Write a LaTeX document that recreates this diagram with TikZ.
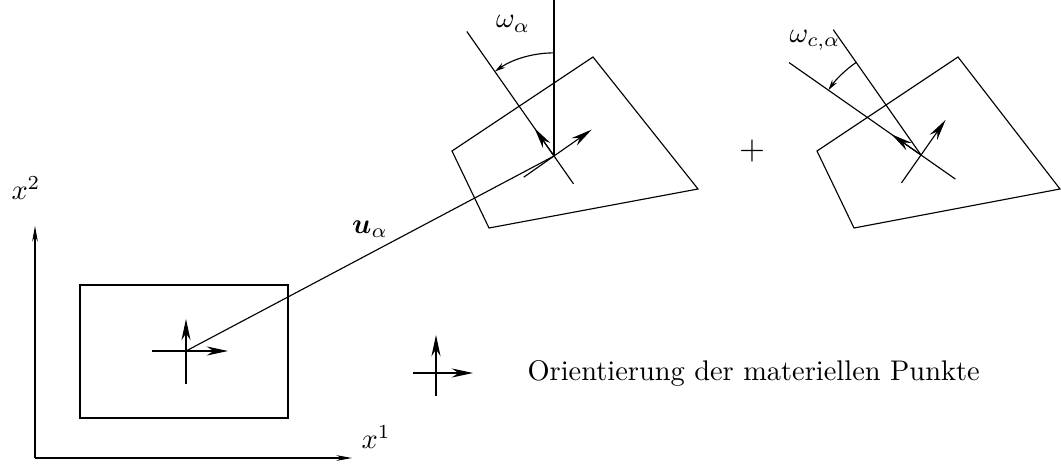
\documentclass[tikz,border=0pt]{standalone}
\usepackage{amsmath}
\usepackage{bm}
\usetikzlibrary{arrows.meta,calc}

\begin{document}
\begin{tikzpicture}[x=0.352pt,y=-0.352pt,line width=0.4pt,
  vec/.style={-{Stealth[length=7.5pt,width=3.2pt]}},
  axisvec/.style={-{Stealth[length=5.5pt,width=2pt]}},
  anglevec/.style={-{Stealth[length=3.8pt,width=2pt]}}]
  \useasboundingbox (0,0) rectangle (1061,465);

  % axes
  \draw[axisvec] (35,458) -- (35,226);
  \draw[axisvec] (35,458) -- (352,458);
  \node (x2) at (26,188) {$x^2$};
  \node (x1) at (376,437) {$x^1$};

  % reference configuration
  \draw (80,285) rectangle (288,418);
  \coordinate (O) at (186,351);
  \draw (O) -- ++(-34,0);
  \draw (O) -- ++(0,33);
  \draw[vec] (O) -- ++(42,0);
  \draw[vec] (O) -- ++(0,-32);

  % deformed configuration, rotation of the material points
  \draw (452,151) -- (593,57) -- (698,189) -- (489,228) -- cycle;
  \coordinate (P) at (554,156);
  \draw (O) -- (P);
  \node (u) at (370,229) {$\bm{u}_\alpha$};
  \draw (P) -- ++(0,-156);
  \begin{scope}[shift={(P)},rotate=35]
    \draw (0,34) -- (0,-152);
    \draw (-37,0) -- (0,0);
    \draw[vec] (0,0) -- (46,0);
    \draw[vec] (0,0) -- (0,-34);
  \end{scope}
  \draw[anglevec] ($(P)+(90:36.3pt)$) arc[start angle=90,end angle=125,radius=36.3pt];
  \node (om) at (513,24) {$\omega_\alpha$};

  \node (plus) at (752,151) {\fontsize{13}{15}\selectfont $+$};

  % additional rotation
  \draw (817,151) -- (958,57) -- (1060,189) -- (854,228) -- cycle;
  \coordinate (Q) at (921,155);
  \begin{scope}[shift={(Q)},rotate=35]
    \draw (0,0) -- (0,-153);
  \end{scope}
  \begin{scope}[shift={(Q)},rotate=55]
    \draw (0,42) -- (0,-161);
    \draw (-34,0) -- (0,0);
    \draw[vec] (0,0) -- (43,0);
    \draw[vec] (0,0) -- (0,-36);
  \end{scope}
  \draw[anglevec] ($(Q)+(125:39.8pt)$) arc[start angle=125,end angle=145,radius=39.8pt];
  \node (omc) at (815,40) {$\omega_{c,\alpha}$};

  % legend
  \coordinate (L) at (436,373);
  \draw (L) -- ++(-23,0);
  \draw (L) -- ++(0,23);
  \draw[vec] (L) -- ++(37,0);
  \draw[vec] (L) -- ++(0,-38);
  \node[anchor=base west,inner sep=0pt] (leg) at (527,380) {Orientierung der materiellen Punkte};
\end{tikzpicture}
\end{document}
